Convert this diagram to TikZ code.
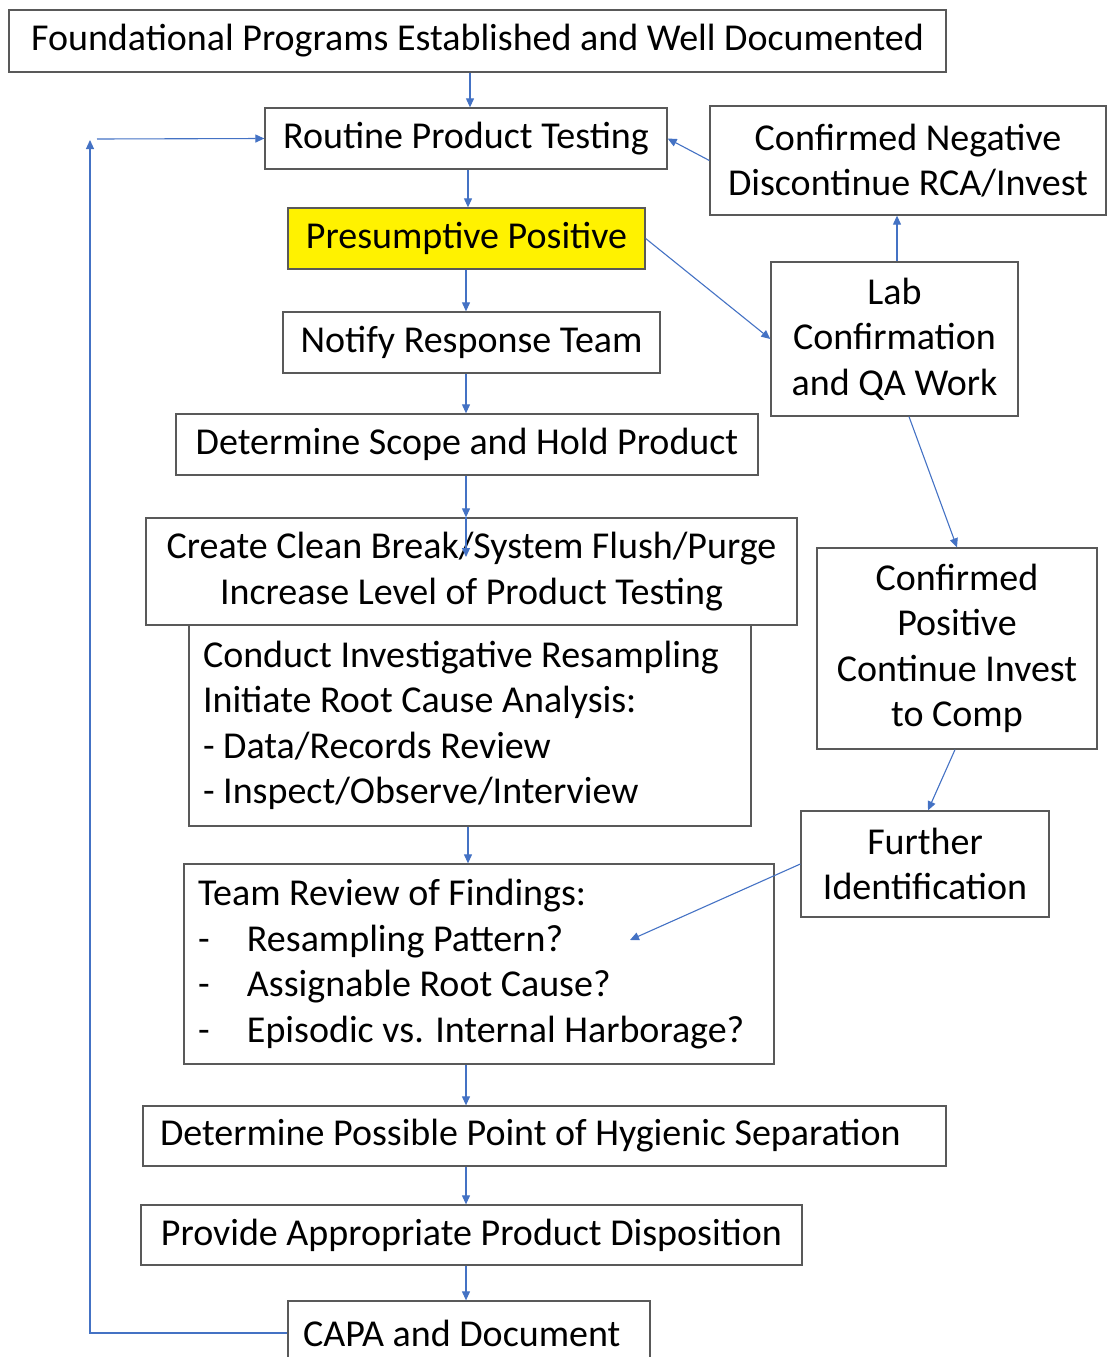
\documentclass[tikz,border=0pt]{standalone}
\usepackage{fontspec}
\setmainfont{Carlito}
\usetikzlibrary{arrows.meta}
\definecolor{arrblue}{HTML}{4472C4}
\definecolor{boxgray}{HTML}{595959}
\begin{document}
\begin{tikzpicture}[x=1pt,y=-1pt,
  box/.style={draw=boxgray,line width=1.3pt,inner sep=0pt,font=\fontsize{38}{45.5}\selectfont},
  arr/.style={draw=arrblue,line width=1.1pt,-{Triangle[length=9pt,width=8pt]}}]
\useasboundingbox (0,0) rectangle (1107,1357);
\node[box,minimum width=937pt,minimum height=62pt] (found) at (477.5,41) {Foundational Programs Established and Well Documented};
\node[box,minimum width=402pt,minimum height=61pt] (routine) at (466,138.5) {Routine Product Testing};
\node[box,minimum width=396pt,minimum height=109pt,align=center] (neg) at (908,160.5) {Confirmed Negative\\Discontinue RCA/Invest};
\node[box,fill=yellow,minimum width=357pt,minimum height=61pt] (presum) at (466.5,238.5) {Presumptive Positive};
\node[box,minimum width=247pt,minimum height=154pt,align=center] (lab) at (894.5,339) {Lab\\Confirmation\\and QA Work};
\node[box,minimum width=377pt,minimum height=61pt] (notify) at (471.5,342.5) {Notify Response Team};
\node[box,minimum width=582pt,minimum height=61pt] (scope) at (467,444.5) {Determine Scope and Hold Product};
\node[box,minimum width=651pt,minimum height=107pt,align=center] (create) at (471.5,571.5) {Create Clean Break/System Flush/Purge\\Increase Level of Product Testing};
\node[box,minimum width=280pt,minimum height=201pt,align=center] (pos) at (957,648.5) {Confirmed\\Positive\\Continue Invest\\to Comp};
\node[box,minimum width=562pt,minimum height=201pt,text width=534pt,align=flush left] (conduct) at (470,725.5) {Conduct Investigative Resampling\\Initiate Root Cause Analysis:\\- Data/Records Review\\- Inspect/Observe/Interview};
\node[box,minimum width=248pt,minimum height=106pt,align=center] (further) at (925,864) {Further\\Identification};
\node[box,minimum width=590pt,minimum height=200pt,text width=562pt,align=flush left] (team) at (479,964) {Team Review of Findings:\\\makebox[49pt][l]{-}Resampling Pattern?\\\makebox[49pt][l]{-}Assignable Root Cause?\\\makebox[49pt][l]{-}Episodic vs. Internal Harborage?};
\node[box,minimum width=803pt,minimum height=60pt,text width=769pt,align=flush left] (possible) at (544.5,1136) {Determine Possible Point of Hygienic Separation};
\node[box,minimum width=661pt,minimum height=60pt] (provide) at (471.5,1235) {Provide Appropriate Product Disposition};
\node[box,minimum width=362pt,minimum height=64pt,text width=332pt,align=flush left] (capa) at (469,1333) {CAPA and Document};
\coordinate (k557) at (466,557);
\coordinate (lc) at (90,1333);
\coordinate (lt) at (90,140);
\coordinate (ls) at (97,139);
\coordinate (ftip) at (630,940);
\draw[arr] ([xshift=-7.5pt]found.south) -- ([xshift=4pt]routine.north);
\draw[arr] ([xshift=2pt]routine.south) -- ([xshift=1.5pt]presum.north);
\draw[arr] ([xshift=-0.5pt]presum.south) -- ([xshift=-5.5pt]notify.north);
\draw[arr] ([xshift=-5.5pt]notify.south) -- ([xshift=-1pt]scope.north);
\draw[arr] ([xshift=-1pt]scope.south) -- ([xshift=-5.5pt]create.north);
\draw[arr] ([xshift=-5.5pt]create.north) -- (k557);
\draw[arr] ([xshift=-2pt]conduct.south) -- ([xshift=-11pt]team.north);
\draw[arr] ([xshift=-13pt]team.south) -- ([xshift=-78.5pt]possible.north);
\draw[arr] ([xshift=-78.5pt]possible.south) -- ([xshift=-5.5pt]provide.north);
\draw[arr] ([xshift=-5.5pt]provide.south) -- ([xshift=-3pt]capa.north);
\draw[arr] (capa.west) -- (lc) -- (lt);
\draw[arr] (ls) -- (routine.west);
\draw[arr] (neg.west) -- (routine.east);
\draw[arr] (presum.east) -- (lab.west);
\draw[arr] ([xshift=2.5pt]lab.north) -- ([xshift=-11pt]neg.south);
\draw[arr] ([xshift=14.5pt]lab.south) -- (pos.north);
\draw[arr] ([xshift=-2pt]pos.south) -- ([xshift=3pt]further.north);
\draw[arr] (further.west) -- (ftip);
\end{tikzpicture}
\end{document}
